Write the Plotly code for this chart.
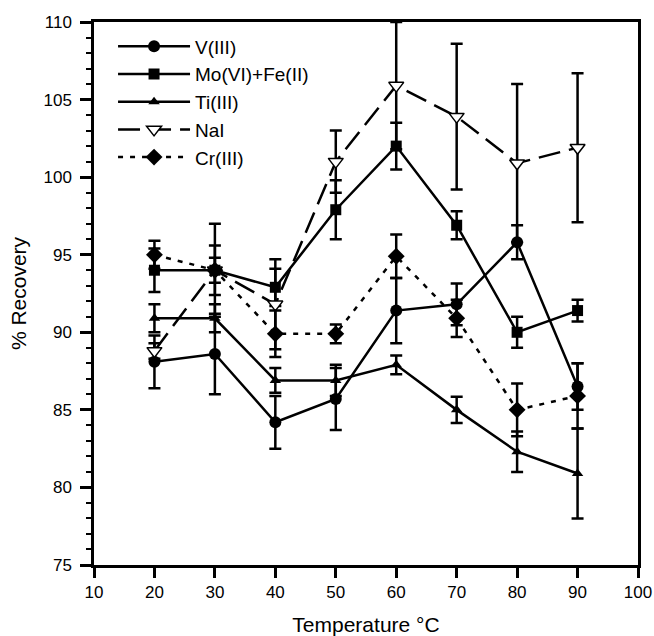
import plotly.graph_objects as go

temperature = [20, 30, 40, 50, 60, 70, 80, 90]

v3 = [88.1, 88.6, 84.2, 85.7, 91.4, 91.8, 95.8, 86.5]
v3_err = [1.7, 2.6, 1.7, 2.0, 2.1, 1.35, 1.1, 1.5]

mo_fe = [94.0, 94.0, 92.9, 97.9, 102.0, 96.9, 90.0, 91.4]
mo_fe_err = [1.4, 0.8, 1.2, 1.9, 1.5, 0.9, 1.0, 0.7]

ti3 = [90.9, 90.9, 86.9, 86.9, 87.9, 85.0, 82.3, 80.9]
ti3_err = [0.9, 0.9, 0.8, 1.0, 0.6, 0.85, 1.3, 2.9]

nai = [88.8, 94.0, 91.8, 101.0, 105.9, 103.9, 100.9, 101.9]
nai_err = [0.5, 3.0, 2.9, 2.0, 4.1, 4.7, 5.1, 4.8]

cr3 = [95.0, 94.0, 89.9, 89.9, 94.9, 90.9, 85.0, 85.9]
cr3_err = [0.9, 1.6, 1.5, 0.6, 1.4, 1.2, 1.7, 2.1]

FONT = "Arial, Liberation Sans, Helvetica, sans-serif"
LW = 2.5


def err(vals):
    return dict(type="data", array=vals, visible=True, color="black", thickness=2.5, width=6)


fig = go.Figure()
fig.add_trace(go.Scatter(
    x=temperature, y=v3, name="V(III)", mode="lines+markers",
    line=dict(color="black", width=LW),
    marker=dict(symbol="circle", size=12, color="black"),
    error_y=err(v3_err)))
fig.add_trace(go.Scatter(
    x=temperature, y=mo_fe, name="Mo(VI)+Fe(II)", mode="lines+markers",
    line=dict(color="black", width=LW),
    marker=dict(symbol="square", size=11, color="black"),
    error_y=err(mo_fe_err)))
fig.add_trace(go.Scatter(
    x=temperature, y=ti3, name="Ti(III)", mode="lines+markers",
    line=dict(color="black", width=LW),
    marker=dict(symbol="triangle-up", size=10, color="black"),
    error_y=err(ti3_err)))
fig.add_trace(go.Scatter(
    x=temperature, y=nai, name="NaI", mode="lines+markers",
    line=dict(color="black", width=LW, dash="22px,9px"),
    marker=dict(symbol="triangle-down", size=13, color="white",
                line=dict(color="black", width=1.5)),
    error_y=err(nai_err)))
fig.add_trace(go.Scatter(
    x=temperature, y=cr3, name="Cr(III)", mode="lines+markers",
    line=dict(color="black", width=LW, dash="5px,7px"),
    marker=dict(symbol="diamond", size=13, color="black"),
    error_y=err(cr3_err)))

fig.update_layout(
    width=654, height=636,
    margin=dict(l=94, r=16, t=22, b=71),
    paper_bgcolor="white", plot_bgcolor="white",
    font=dict(family=FONT, color="black", size=17),
    showlegend=True,
    legend=dict(x=0.035, y=0.99, xanchor="left", yanchor="top",
                bgcolor="rgba(0,0,0,0)", font=dict(size=19, family=FONT),
                itemwidth=72, tracegroupgap=0),
    xaxis=dict(
        range=[10, 100], dtick=10, tick0=10, automargin=False,
        ticks="outside", ticklen=10, tickwidth=2.5, tickcolor="black",
        showline=True, linewidth=2.5, linecolor="black", mirror=True,
        showgrid=False, zeroline=False,
        tickfont=dict(size=17, family=FONT),
        title=dict(text="Temperature °C", font=dict(size=21, family=FONT), standoff=18),
    ),
    yaxis=dict(
        range=[75, 110], dtick=5, tick0=75, automargin=False,
        ticks="outside", ticklen=11, tickwidth=2.5, tickcolor="black",
        ticklabelstandoff=5,
        minor=dict(dtick=1, ticks="outside", ticklen=5, tickwidth=1.5, tickcolor="black"),
        showline=True, linewidth=2.5, linecolor="black", mirror=True,
        showgrid=False, zeroline=False,
        tickfont=dict(size=17, family=FONT),
        title=dict(text="% Recovery", font=dict(size=21, family=FONT), standoff=12),
    ),
)

fig.write_html(
    "out.html",
    config={"displayModeBar": False},
    post_script="document.body.style.margin='0';document.body.style.padding='0';"
                "document.body.style.overflow='hidden';",
)
